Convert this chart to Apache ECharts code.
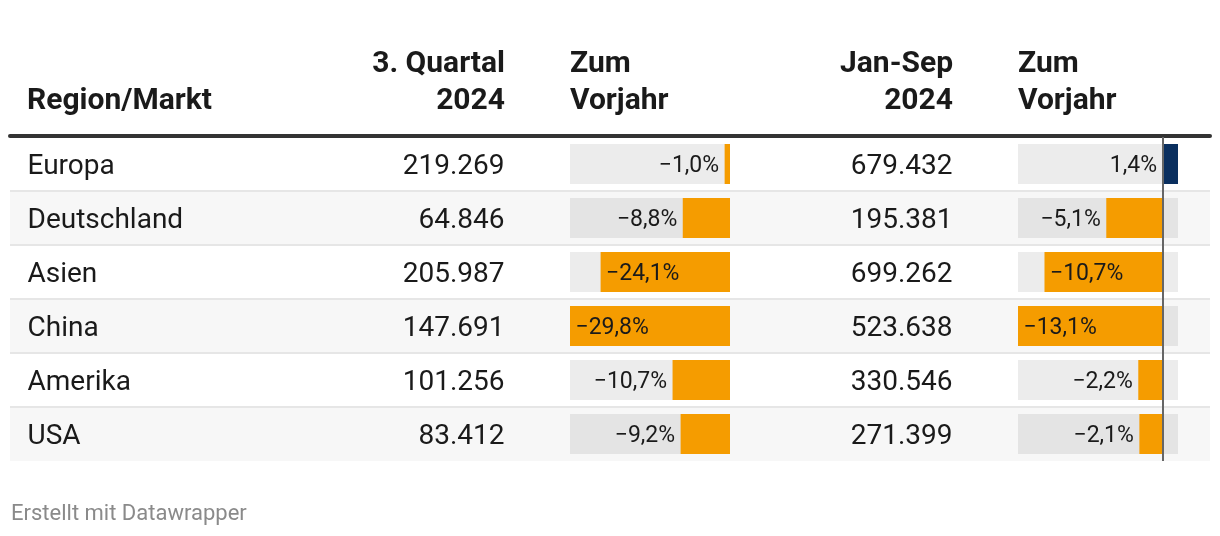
<!DOCTYPE html>
<html>
<head>
<meta charset="utf-8">
<script src="https://cdn.jsdelivr.net/npm/echarts@6/dist/echarts.min.js"></script>
<style>
  html, body { margin: 0; padding: 0; background: #fff; }
  #chartBox { width: 1220px; height: 536px; }
</style>
</head>
<body>
<div id="chartBox"></div>
<script>
  // Daten
  var regions = ['Europa', 'Deutschland', 'Asien', 'China', 'Amerika', 'USA'];
  var q3Values = [219269, 64846, 205987, 147691, 101256, 83412];
  var q3Change = [-1.0, -8.8, -24.1, -29.8, -10.7, -9.2];
  var ytdValues = [679432, 195381, 699262, 523638, 330546, 271399];
  var ytdChange = [1.4, -5.1, -10.7, -13.1, -2.2, -2.1];

  var FONT = 'Roboto';
  var TEXT = '#1a1a1a';
  var ORANGE = '#f59c00';
  var NAVY = '#0a2f5f';

  function fmtInt(n) {
    return String(n).replace(/\B(?=(\d{3})+(?!\d))/g, '.');
  }
  function fmtPct(v) {
    return (v < 0 ? '\u2212' : '') + Math.abs(v).toFixed(1).replace('.', ',') + '%';
  }

  var chart = echarts.init(document.getElementById('chartBox'));

  var gridTop = 137, rowsH = 324, barCellW = 160;
  var r1 = [Math.min(0, Math.min.apply(null, q3Change)), Math.max(0, Math.max.apply(null, q3Change))];
  var r2 = [Math.min(0, Math.min.apply(null, ytdChange)), Math.max(0, Math.max.apply(null, ytdChange))];

  function barData(arr) {
    return arr.map(function (v) {
      return { value: v, itemStyle: { color: v < 0 ? ORANGE : NAVY } };
    });
  }
  // Beschriftung: innen links wenn der Balken lang genug ist, sonst links davor
  function labelData(arr, range) {
    return arr.map(function (v, i) {
      var px = Math.abs(v) / (range[1] - range[0]) * barCellW;
      var inside = v < 0 && px > 100;
      return {
        value: [Math.min(v, 0), i],
        label: { position: inside ? 'right' : 'left' }
      };
    });
  }
  function textSeries(x, pos, arr, fmt) {
    return {
      type: 'scatter',
      xAxisIndex: 0, yAxisIndex: 0,
      symbolSize: 1,
      itemStyle: { color: 'transparent', opacity: 1 },
      silent: true,
      z: 5,
      data: arr.map(function (v, i) { return [x, i]; }),
      label: {
        show: true, position: pos, distance: 0, offset: [0, 3],
        fontFamily: FONT, fontSize: 28, color: TEXT,
        formatter: function (p) { return fmt(arr[p.dataIndex]); }
      }
    };
  }
  function pctLabels(axisIdx, arr, range) {
    return {
      type: 'scatter',
      xAxisIndex: axisIdx, yAxisIndex: axisIdx,
      symbolSize: 1,
      itemStyle: { color: 'transparent', opacity: 1 },
      silent: true,
      z: 6,
      data: labelData(arr, range),
      label: {
        show: true, distance: 5, offset: [0, 2],
        fontFamily: FONT, fontSize: 23, color: TEXT,
        formatter: function (p) { return fmtPct(arr[p.dataIndex]); }
      }
    };
  }
  function headerText(txt, x, y, align) {
    return {
      type: 'text', silent: true,
      style: {
        text: txt, x: x, y: y,
        font: 'bold 30px Roboto',
        fill: TEXT,
        align: align, textAlign: align,
        verticalAlign: 'middle', textVerticalAlign: 'middle'
      }
    };
  }

  var hiddenCat = {
    type: 'category', data: regions, inverse: true, show: false
  };

  var option = {
    animation: false,
    grid: [
      { left: 10, width: 1200, top: gridTop, height: rowsH },
      { left: 570, width: barCellW, top: gridTop, height: rowsH },
      { left: 1018, width: barCellW, top: gridTop, height: rowsH }
    ],
    xAxis: [
      {
        gridIndex: 0, type: 'value', min: 10, max: 1210, position: 'top', offset: 1,
        axisLine: { show: true, lineStyle: { color: '#333333', width: 4 } },
        axisTick: { show: false }, axisLabel: { show: false }, splitLine: { show: false }
      },
      { gridIndex: 1, type: 'value', min: r1[0], max: r1[1], show: false },
      { gridIndex: 2, type: 'value', min: r2[0], max: r2[1], show: false }
    ],
    yAxis: [
      {
        gridIndex: 0, type: 'category', data: regions, inverse: true,
        axisLine: { show: false }, axisTick: { show: false }, axisLabel: { show: false },
        splitLine: { show: true, showMinLine: false, showMaxLine: false,
          lineStyle: { color: '#e6e6e6', width: 2 } },
        splitArea: { show: true, areaStyle: { color: ['#ffffff', '#f7f7f7'] } }
      },
      Object.assign({ gridIndex: 1 }, hiddenCat),
      Object.assign({ gridIndex: 2 }, hiddenCat)
    ],
    graphic: [
      headerText('Region/Markt', 27, 101, 'left'),
      headerText('3. Quartal', 505, 64, 'right'),
      headerText('2024', 505, 101, 'right'),
      headerText('Zum', 570, 64, 'left'),
      headerText('Vorjahr', 570, 101, 'left'),
      headerText('Jan-Sep', 953, 64, 'right'),
      headerText('2024', 953, 101, 'right'),
      headerText('Zum', 1018, 64, 'left'),
      headerText('Vorjahr', 1018, 101, 'left'),
      {
        type: 'text', silent: true,
        style: {
          text: 'Erstellt mit Datawrapper', x: 11, y: 514,
          font: '22px Roboto', fill: '#8a8a8a',
          align: 'left', textAlign: 'left',
          verticalAlign: 'middle', textVerticalAlign: 'middle'
        }
      }
    ],
    series: [
      textSeries(27, 'right', regions, function (v) { return v; }),
      textSeries(505, 'left', q3Values, fmtInt),
      textSeries(953, 'left', ytdValues, fmtInt),
      {
        type: 'bar', xAxisIndex: 1, yAxisIndex: 1, barWidth: 40,
        showBackground: true, backgroundStyle: { color: 'rgba(0,0,0,0.075)' },
        silent: true,
        data: barData(q3Change)
      },
      {
        type: 'bar', xAxisIndex: 2, yAxisIndex: 2, barWidth: 40,
        showBackground: true, backgroundStyle: { color: 'rgba(0,0,0,0.075)' },
        silent: true,
        data: barData(ytdChange),
        markLine: {
          silent: true, symbol: 'none', z: 7,
          label: { show: false },
          lineStyle: { color: '#666666', width: 2, type: 'solid' },
          data: [{ xAxis: 0 }]
        }
      },
      pctLabels(1, q3Change, r1),
      pctLabels(2, ytdChange, r2)
    ]
  };

  chart.setOption(option);
  window.onresize = chart.resize;
</script>
</body>
</html>
